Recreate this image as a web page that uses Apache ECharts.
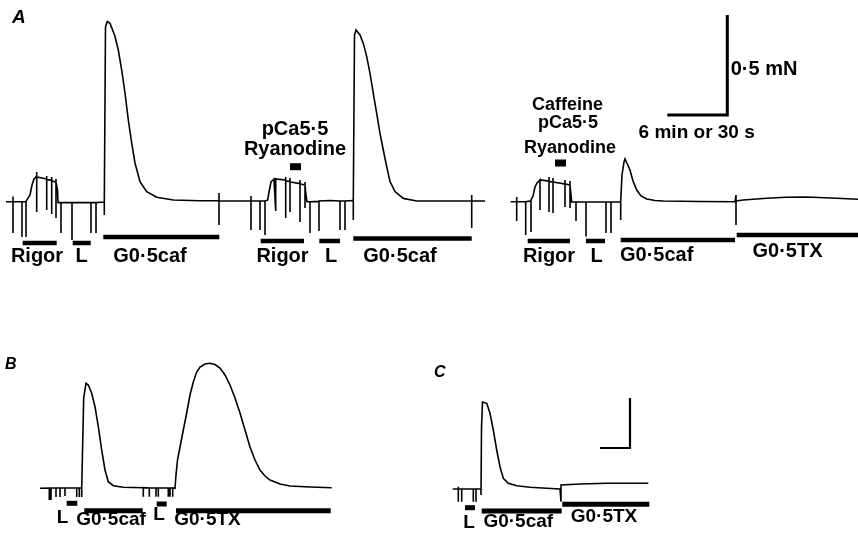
<!DOCTYPE html>
<html><head><meta charset="utf-8">
<script src="https://cdn.jsdelivr.net/npm/echarts@6/dist/echarts.min.js"></script>
<style>html,body{margin:0;padding:0;background:#fff}#c{width:858px;height:536px}</style>
</head><body><div id="c"></div>
<script>
// ---------- DATA (time, force in mN) ----------
// Panel A: time in min, force in mN
const traceA12 = [
[0.6,-0.004],
[1.3,-0.004],[1.3,0.022],[1.3,-0.16],[1.3,-0.004],
[2.2,-0.004],[2.2,-0.18],[2.2,-0.004],
[2.6,-0.004],[2.6,-0.18],[2.6,-0.002],
[2.8,0.005],[3.0,0.03],[3.2,0.08],[3.4,0.11],[3.67,0.125],
[3.67,0.145],[3.67,-0.055],[3.67,0.12],
[4.2,0.115],[4.67,0.11],[4.67,0.125],[4.67,-0.045],[4.67,0.108],
[5.17,0.103],[5.17,0.12],[5.17,-0.065],[5.17,0.1],
[5.6,0.095],[5.6,0.11],[5.6,-0.085],[5.6,0.095],
[5.75,0.055],[5.8,-0.008],
[6.1,-0.008],[6.1,-0.16],[6.1,-0.008],
[7.2,-0.008],[7.2,-0.195],[7.2,-0.008],
[9.1,-0.008],[9.1,-0.16],[9.1,-0.008],
[9.6,-0.008],[9.6,-0.16],[9.6,-0.008],
[10.43,-0.005],[10.43,-0.07],[10.43,-0.005],
[10.55,0.87],[10.73,0.897],[11.0,0.888],[11.33,0.846],[11.5,0.822],[11.83,0.755],[12.17,0.655],[12.5,0.54],[12.83,0.405],[13.17,0.29],[13.5,0.19],[14.0,0.097],[14.67,0.047],[15.67,0.019],[17.33,0.005],[20.0,0.0015],
[21.9,0.0015],[21.9,0.04],[21.9,-0.12],[21.9,0],
[25.1,0],[25.1,0.025],[25.1,-0.145],[25.1,0],
[26.0,0],[26.0,-0.145],[26.0,0],
[26.5,0],[26.5,-0.17],[26.5,0],
[26.77,0.005],[26.9,0.045],[27.1,0.095],[27.4,0.11],
[27.57,0.115],[27.57,0.12],[27.57,-0.05],[27.57,0.11],
[28.57,0.105],[28.57,0.12],[28.57,-0.085],[28.57,0.1],
[29.0,0.0975],[29.0,0.115],[29.0,-0.055],[29.0,0.095],
[30.0,0.0875],[30.0,0.105],[30.0,-0.105],[30.0,0.085],
[30.5,0.08],[30.5,0.095],[30.5,-0.035],[30.5,0.08],
[30.6,0.03],[30.7,-0.004],
[31.0,-0.004],[31.0,-0.16],[31.0,-0.004],
[31.9,-0.002],[31.9,-0.15],[31.9,0],
[33.0,0.0025],
[34.0,0],[34.0,-0.145],[34.0,0],
[34.5,0],[34.5,-0.145],[34.5,0],
[35.33,0.0025],[35.33,-0.095],[35.33,0.005],
[35.45,0.83],[35.6,0.855],[36.0,0.83],[36.33,0.788],[36.67,0.722],[37.0,0.638],[37.33,0.538],[37.67,0.438],[38.0,0.338],[38.33,0.255],[38.67,0.172],[39.0,0.097],[39.5,0.047],[40.33,0.013],[41.67,0.0],
[47.17,0],[47.17,0.03],[47.17,-0.135],[47.17,0],
[48.5,0]
];
const traceA3 = [
[51.07,-0.004],
[51.67,-0.004],[51.67,0.02],[51.67,-0.10],[51.67,-0.004],
[52.57,-0.004],[52.57,-0.17],[52.57,-0.004],
[53.1,0],[53.1,-0.155],[53.1,0.005],
[53.3,0.025],[53.5,0.07],[53.7,0.09],[54.0,0.105],
[54.0,0.115],[54.0,-0.045],[54.0,0.105],
[54.9,0.1],[54.9,0.12],[54.9,-0.055],[54.9,0.0975],
[55.3,0.095],[55.3,0.115],[55.3,-0.06],[55.3,0.095],
[56.5,0.085],[56.5,0.105],[56.5,-0.03],[56.5,0.085],
[57.0,0.08],[57.0,0.1],[57.0,-0.035],[57.0,0.08],
[57.17,-0.005],
[57.6,-0.005],[57.6,-0.10],[57.6,-0.005],
[58.6,-0.005],[58.6,-0.178],[58.6,-0.005],
[60.6,-0.005],[60.6,-0.16],[60.6,-0.005],
[61.1,-0.005],[61.1,-0.16],[61.1,-0.005],
[62.07,-0.005],[62.07,-0.095],[62.07,0],
[62.2,0.13],[62.4,0.195],[62.5,0.21],[62.7,0.2],[63.0,0.155],[63.3,0.1],[63.67,0.055],[64.1,0.025],[64.67,0.01],[65.5,0.0025],[66.33,0],[70.0,-0.0025],[73.5,-0.004],
[73.6,-0.004],[73.6,0.03],[73.6,-0.12],[73.6,0],
[74.33,0.005],[76.67,0.0135],[78.6,0.0185],[80.67,0.02],[83.67,0.0135],[85.8,0.0085]
];
// Panel B: time in s, force in mN
const traceB = [
[0,-0.003],
[9.3,0],[9.3,-0.12],[9.3,0],[11.0,0],[11.0,-0.12],[11.0,0],
[16,0],[16,-0.09],[16,0],
[20,0],[20,-0.09],[20,0],
[25,0],[25,-0.08],[25,0],
[36.7,0],[36.7,0.02],[36.7,-0.09],[36.7,0],
[39.3,0],[39.3,-0.09],[39.3,0],
[41.7,0],[41.7,-0.09],[41.7,0],
[43.3,0],[43.7,0.9],[46.0,1.047],[48.3,1.03],[51.7,0.947],[55.0,0.813],[58.3,0.613],[61.7,0.38],[65.0,0.18],[68.3,0.063],[73.3,0.023],[83.3,0.007],[103.3,0.003],
[103.3,0.023],[103.3,-0.087],[103.3,0.003],
[109.3,0],[109.3,-0.087],[109.3,0],
[116,0],[116,-0.087],[116,0],
[118.3,0],[118.3,-0.087],[118.3,0],
[128.3,0],[128.3,-0.087],[128.3,0],
[130,0],[130,-0.087],[130,0],
[132.7,0],[132.7,-0.087],[132.7,0],
[135,-0.003],[136,0.13],[137.5,0.28],[140,0.41],[143.3,0.58],[146.7,0.75],[150,0.93],[153.3,1.06],[156.7,1.16],[160,1.21],[165,1.24],[170,1.247],[175,1.235],[180,1.2],[185,1.13],[190,1.03],[195,0.9],[200,0.75],[205,0.58],[210,0.41],[215,0.28],[220,0.18],[225,0.12],[230,0.08],[240,0.04],[250,0.02],[270,0.01],[291.7,0.003]
];
// Panel C: time in s, force in mN
const traceC = [
[0.7,-0.01],
[6.3,-0.01],[6.3,0.013],[6.3,-0.137],[6.3,-0.01],
[9.7,-0.01],[9.7,-0.137],[9.7,-0.01],
[21.3,-0.01],[21.3,-0.137],[21.3,-0.01],
[24,-0.01],[24,-0.137],[24,-0.01],
[29,-0.01],[29,-0.07],[29.5,0.6],[30.5,0.86],[31.3,0.88],[34.7,0.847],[38,0.747],[41.3,0.58],[44.7,0.38],[48,0.213],[51.3,0.097],[56.3,0.047],[64.7,0.023],[78,0.007],[94.7,-0.003],[108,-0.01],
[109,-0.01],[109,-0.137],[109,0.03],[109.7,0.03],[128,0.04],[154.7,0.047],[196.3,0.047]
];
// Solution bars: [start, end, level]
const barsA = [[2.27,5.67,-0.21],[7.27,9.07,-0.21],[10.33,21.93,-0.18],
               [26.07,30.4,-0.2],[31.93,34.0,-0.2],[35.33,47.17,-0.187],
               [52.77,57.0,-0.2],[58.6,60.5,-0.2],[62.07,73.5,-0.195],[73.67,85.8,-0.17]];
const barsB = [[26.7,37.3,-0.153],[44.3,102.7,-0.227],[116.7,126.7,-0.16],[136,290.7,-0.227]];
const barsC = [[13,23,-0.197],[29.7,109.7,-0.23],[110.3,197.3,-0.163]];
const drugMarksA = [[29.0,30.1,0.1715],[55.5,56.6,0.19]];
// Scale bars
const scaleA = [[66.73,0.43],[72.73,0.43],[72.73,0.93]];
const scaleC = [[148,0.4],[178,0.4],[178,0.9]];
// Labels: [text, time, force]
const labelsA = [["Rigor",3.7,-0.278],["L",8.17,-0.278],["G0·5caf",15.0,-0.278],
                 ["Rigor",28.25,-0.278],["L",33.1,-0.278],["G0·5caf",40.0,-0.278],
                 ["Rigor",54.9,-0.278],["L",59.67,-0.278],["G0·5caf",65.67,-0.27],["G0·5TX",78.75,-0.254],
                 ["pCa5·5",29.5,0.36],["Ryanodine",29.5,0.26]];
const labelsA3 = [["Caffeine",56.75,0.48],["pCa5·5",56.8,0.39],["Ryanodine",57.0,0.265]];
const scaleLabelsA = [["6 min or 30 s",69.67,0.34]];
const unitLabelsA = [["0·5 mN",73.07,0.657]];
const labelsB = [["L",22.5,-0.3],["G0·5caf",71,-0.32],["L",119,-0.27],["G0·5TX",167.5,-0.32]];
const labelsC = [["L",17,-0.35],["G0·5caf",66.3,-0.34],["G0·5TX",152,-0.29]];
const panelLetters = ["A","B","C"];

// ---------- CHART ----------
const INK = '#000';
const FONT = '"Liberation Sans", Arial, sans-serif';
const chart = echarts.init(document.getElementById('c'), null, {renderer:'canvas'});

function axisX(gi, min, max){ return {type:'value', gridIndex:gi, min, max, show:false}; }
function axisY(gi, min, max){ return {type:'value', gridIndex:gi, min, max, show:false}; }
function trace(data, gi, w){
  return {type:'line', xAxisIndex:gi, yAxisIndex:gi, data, symbol:'none', showSymbol:false,
    lineStyle:{color:INK, width:w||1.6, join:'miter'}, silent:true, clip:false};
}
function bars(data, gi, w){
  return {type:'custom', xAxisIndex:gi, yAxisIndex:gi, data, silent:true, clip:false,
    encode:{x:[0,1], y:2},
    renderItem:(p, api)=>{
      const a = api.coord([api.value(0), api.value(2)]);
      const b = api.coord([api.value(1), api.value(2)]);
      return {type:'line', shape:{x1:a[0], y1:a[1], x2:b[0], y2:b[1]}, style:{stroke:INK, lineWidth:w}};
    }};
}
function labels(list, gi, size, align){
  return {type:'custom', xAxisIndex:gi, yAxisIndex:gi, silent:true, clip:false,
    data:list.map(l=>[l[1], l[2], l[0]]),
    encode:{x:0, y:1},
    renderItem:(p, api)=>{
      const pt = api.coord([api.value(0), api.value(1)]);
      return {type:'text', x:pt[0], y:pt[1],
        style:{text:list[p.dataIndex][0], fill:INK, font:'bold '+size+'px '+FONT,
          align:align||'center', verticalAlign:'middle'}};
    }};
}

const option = {
  animation:false,
  backgroundColor:'#fff',
  grid:[
    {left:0, top:1, width:858, height:300},
    {left:40, top:301, width:300, height:235},
    {left:452, top:301, width:210, height:235}
  ],
  xAxis:[axisX(0,0,85.8), axisX(1,0,300), axisX(2,0,210)],
  yAxis:[axisY(0,-0.5,1.0), axisY(1,-0.48,1.87), axisY(2,-0.48,1.87)],
  graphic:[
    {type:'text', left:12, top:8, style:{text:panelLetters[0], font:'italic bold 19px '+FONT, fill:INK}},
    {type:'text', left:5, top:357, style:{text:panelLetters[1], font:'italic bold 16px '+FONT, fill:INK}},
    {type:'text', left:434, top:365, style:{text:panelLetters[2], font:'italic bold 16px '+FONT, fill:INK}}
  ],
  series:[
    trace(traceA12,0), trace(traceA3,0), trace(traceB,1), trace(traceC,2),
    bars(barsA,0,4.5), bars(barsB,1,5), bars(barsC,2,5),
    bars(drugMarksA,0,7),
    trace(scaleA,0,3), trace(scaleC,2,2.2),
    labels(labelsA,0,20), labels(labelsA3,0,18), labels(scaleLabelsA,0,19), labels(unitLabelsA,0,20,'left'),
    labels(labelsB,1,19), labels(labelsC,2,19)
  ]
};
chart.setOption(option);
</script></body></html>
